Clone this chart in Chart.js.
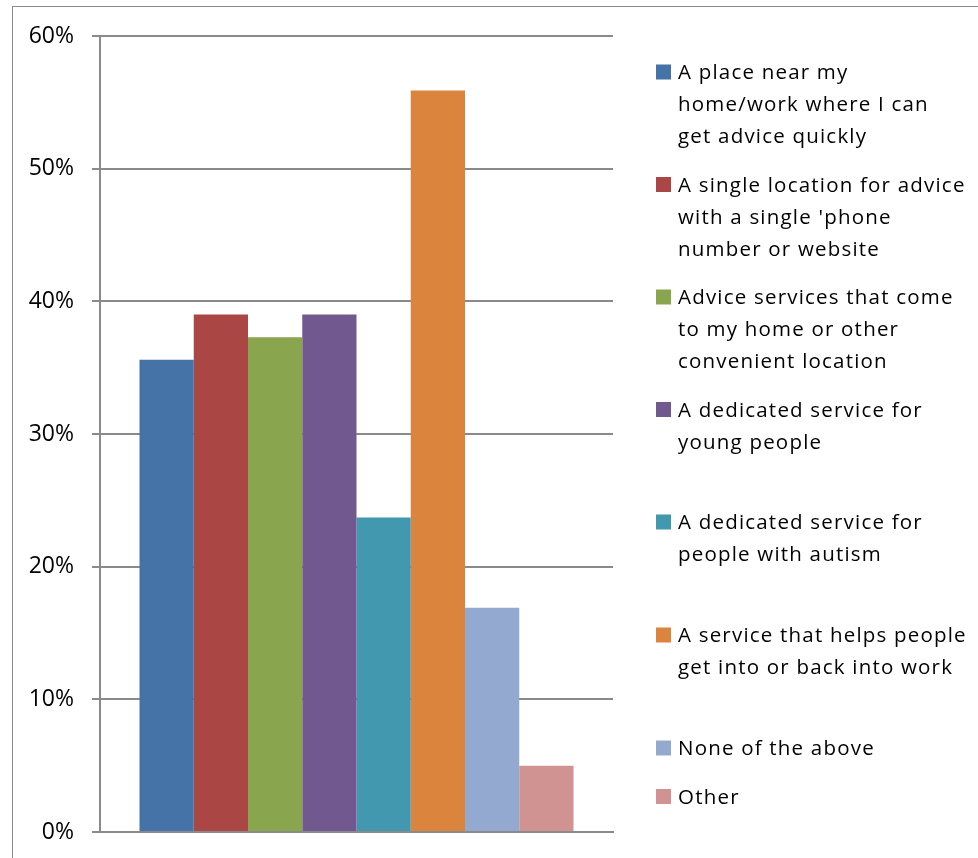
<!DOCTYPE html>
<html>
<head>
<meta charset="utf-8">
<script src="https://cdn.jsdelivr.net/npm/chart.js@4"></script>
<style>
    html, body { margin: 0; padding: 0; background: #fff; overflow: hidden; }
    #wrap { position: relative; width: 978px; height: 858px; }
    #frame {
        position: absolute; left: 12px; top: 6px; width: 1000px; height: 900px;
        border: 1.5px solid #8a8a8a; box-sizing: border-box;
    }
    canvas { position: absolute; left: 0; top: 0; }
</style>
</head>
<body>
<div id="wrap">
    <div id="frame"></div>
    <canvas id="servicesChart" width="978" height="858"></canvas>
</div>
<script>
// Respostas (%) por tipo de serviço
const seriesLabels = [
    ['A place near my', 'home/work where I can', 'get advice quickly'],
    ['A single location for advice', "with a single 'phone", 'number or website'],
    ['Advice services that come', 'to my home or other', 'convenient location'],
    ['A dedicated service for', 'young people'],
    ['A dedicated service for', 'people with autism'],
    ['A service that helps people', 'get into or back into work'],
    ['None of the above'],
    ['Other']
];
const seriesValues = [35.6, 39.0, 37.3, 39.0, 23.7, 55.9, 16.9, 5.0];
const seriesColors = ['#4572A7', '#AA4643', '#89A54E', '#71588F', '#4198AF', '#DB843D', '#93A9CF', '#D19392'];
const categories = [''];
const yTicks = [0, 10, 20, 30, 40, 50, 60];

const FONT = '"Open Sans", Lato, sans-serif';

// Legenda desenhada à direita, com textos em várias linhas
const sideLegend = {
    id: 'sideLegend',
    afterDraw(chart, args, opts) {
        const ctx = chart.ctx;
        ctx.save();
        ctx.font = opts.fontSize + 'px ' + FONT;
        ctx.letterSpacing = opts.letterSpacing;
        ctx.textBaseline = 'middle';
        ctx.textAlign = 'left';
        chart.data.datasets.forEach((ds, i) => {
            const y = opts.rows[i];
            ctx.fillStyle = ds.backgroundColor;
            ctx.fillRect(opts.x, y - opts.box / 2, opts.box, opts.box);
            ctx.fillStyle = '#000';
            ds.label.forEach((line, j) => {
                ctx.fillText(line, opts.x + opts.box + 7, y + 1.5 + j * opts.lineHeight);
            });
        });
        ctx.restore();
    }
};

const ctx = document.getElementById('servicesChart').getContext('2d');
new Chart(ctx, {
    type: 'bar',
    data: {
        labels: categories,
        datasets: seriesLabels.map((label, i) => ({
            label: label,
            data: [seriesValues[i]],
            backgroundColor: seriesColors[i],
            borderWidth: 0,
            categoryPercentage: 0.846,
            barPercentage: 1.0
        }))
    },
    options: {
        responsive: false,
        animation: false,
        layout: { padding: { left: 0, top: 36, right: 365, bottom: 26 } },
        plugins: {
            legend: { display: false },
            tooltip: { enabled: false },
            sideLegend: {
                x: 656, box: 15, fontSize: 20.5, lineHeight: 32, letterSpacing: '1.2px',
                rows: [72, 184.5, 297, 409.5, 522, 635, 748, 796.5]
            }
        },
        scales: {
            x: {
                ticks: { display: false },
                grid: { display: false },
                border: { display: true, color: '#8a8a8a', width: 2 },
                afterFit(scale) { scale.height = 0; }
            },
            y: {
                min: 0,
                max: 60,
                afterBuildTicks(scale) { scale.ticks = yTicks.map(v => ({ value: v })); },
                ticks: {
                    padding: 18,
                    color: '#000',
                    font: { family: FONT, size: 23 },
                    callback: v => v + '%'
                },
                grid: { color: '#8a8a8a', lineWidth: 2, tickLength: 8 },
                border: { display: true, color: '#8a8a8a', width: 2 },
                afterFit(scale) {
                    // largura fixa do eixo e sem margem extra em cima/embaixo
                    scale.width = 100;
                    scale.paddingTop = 0;
                    scale.paddingBottom = 0;
                }
            }
        }
    },
    plugins: [sideLegend]
});
</script>
</body>
</html>
